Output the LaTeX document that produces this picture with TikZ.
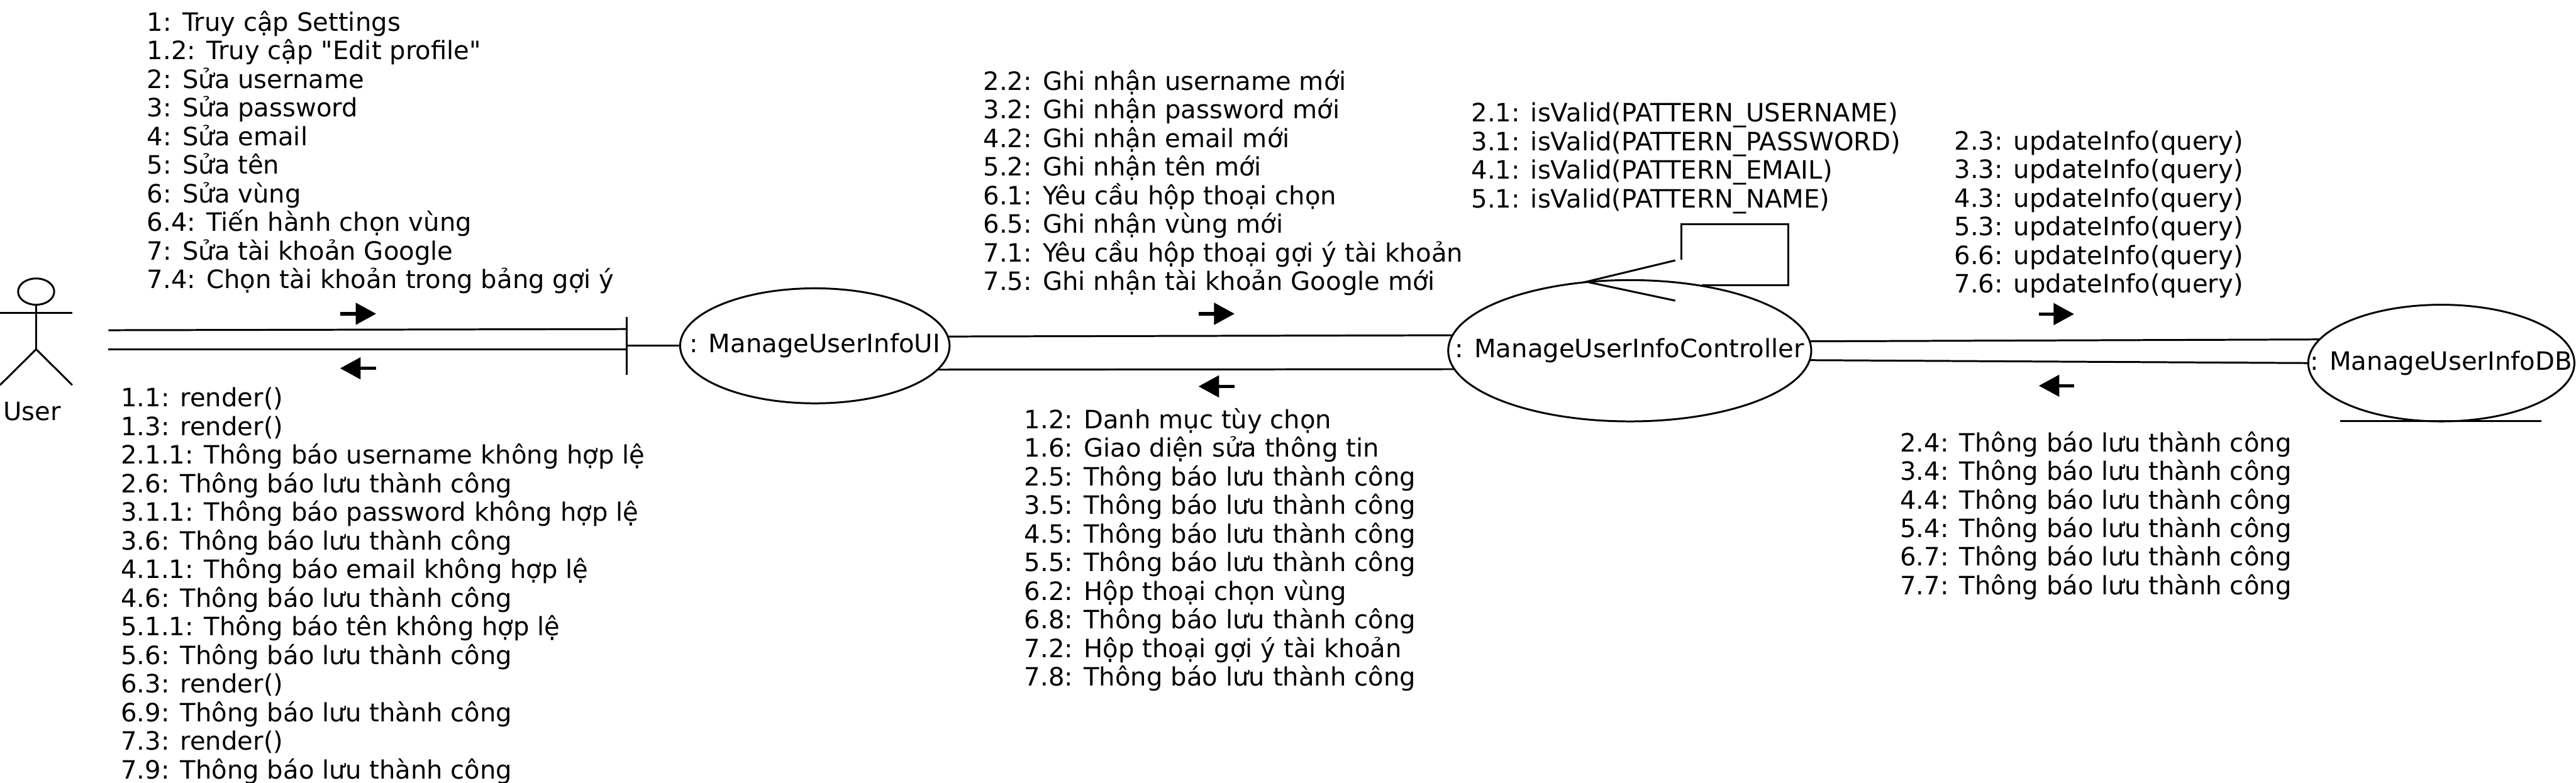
\documentclass[tikz,border=0pt]{standalone}
\usepackage{fontspec}
\setmainfont{DejaVu Sans}[Ligatures=TeXOff]
\usetikzlibrary{arrows.meta, shapes.geometric}
\tikzset{
  objnode/.style={draw,ellipse,inner sep=0pt,outer sep=0pt,font=\fontsize{8.75pt}{10pt}\selectfont},
  msglist/.style={anchor=north west,align=left,inner sep=0pt,font=\fontsize{8.75pt}{9.91pt}\selectfont},
  msgarrow/.style={line width=1.2pt,-{Triangle[length=2.5mm,width=2.6mm]}},
  assoc/.style={line width=0.65pt}
}
\begin{document}
\begin{tikzpicture}[x=0.2mm,y=-0.2mm,line width=0.65pt]
  \useasboundingbox (0,0) rectangle (1568,476.6);
  % actor
  \node[draw,ellipse,minimum width=4.4mm,minimum height=3.2mm,inner sep=0pt,outer sep=0pt] (head) at (22,177.5) {};
  \coordinate (hip) at (22,212.6);
  \coordinate (armL) at (0,190.6);
  \coordinate (armR) at (44,190.6);
  \coordinate (legL) at (0,234.4);
  \coordinate (legR) at (44,234.4);
  \draw (head.south)--(hip);
  \draw (armL)--(armR);
  \draw (legL)--(hip)--(legR);
  \node[font=\fontsize{8.75pt}{10pt}\selectfont] (user) at (19.5,250.5) {User};
  % objects
  \node[objnode,minimum width=32.8mm,minimum height=14mm] (ui) at (496,210.5) {\makebox[0pt]{\raisebox{-0.3mm}{: ManageUserInfoUI}}};
  \node[objnode,minimum width=44.2mm,minimum height=17.2mm] (ctrl) at (992,213.5) {\makebox[0pt]{\raisebox{-0.45mm}{: ManageUserInfoController}}};
  \node[objnode,minimum width=32.4mm,minimum height=14.2mm] (db) at (1486,221) {\makebox[0pt]{\raisebox{-0.3mm}{: ManageUserInfoDB}}};
  \coordinate (dbL) at (1424.6,256.4);
  \coordinate (dbR) at (1546.8,256.4);
  \draw (dbL)--(dbR);
  % boundary bar
  \coordinate (barT) at (381.5,193);
  \coordinate (barB) at (381.5,228);
  \coordinate (barM) at (381.5,210.5);
  \draw (barT)--(barB);
  \draw (barM)--(ui.west);
  % links
  \coordinate (userA) at (66,201);
  \coordinate (userB) at (66,212.8);
  \coordinate (barA) at (381.5,200.3);
  \coordinate (barC) at (381.5,212.8);
  \draw[assoc] (userA)--(barA);
  \draw[assoc] (userB)--(barC);
  \draw[assoc] (ui.4)--(ctrl.175.6);
  \draw[assoc] (ui.-11.5)--(ctrl.186.2);
  \draw[assoc] (ctrl.3.5)--(db.169.1);
  \draw[assoc] (ctrl.-3.8)--(db.180);
  % self loop
  \coordinate (loopA) at (1023.5,158);
  \coordinate (loopB) at (1023.5,136.5);
  \coordinate (loopC) at (1088.5,136.5);
  \coordinate (loopD) at (1088.5,173.5);
  \coordinate (loopE) at (1036,173.5);
  \coordinate (tipU) at (1019.7,158.5);
  \coordinate (tip) at (965.6,171.5);
  \coordinate (tipD) at (1019.7,183);
  \draw (loopA)--(loopB)--(loopC)--(loopD)--(loopE);
  \draw (tipU)--(tip)--(tipD);
  % direction arrows
  \coordinate (a1s) at (207,191);
  \coordinate (a1e) at (229,191);
  \coordinate (a2s) at (229,224.2);
  \coordinate (a2e) at (207,224.2);
  \coordinate (a3s) at (729.5,191);
  \coordinate (a3e) at (751.5,191);
  \coordinate (a4s) at (751.5,235.2);
  \coordinate (a4e) at (729.5,235.2);
  \coordinate (a5s) at (1241,191.2);
  \coordinate (a5e) at (1262.5,191.2);
  \coordinate (a6s) at (1262.5,234.8);
  \coordinate (a6e) at (1241,234.8);
  \draw[msgarrow] (a1s)--(a1e);
  \draw[msgarrow] (a2s)--(a2e);
  \draw[msgarrow] (a3s)--(a3e);
  \draw[msgarrow] (a4s)--(a4e);
  \draw[msgarrow] (a5s)--(a5e);
  \draw[msgarrow] (a6s)--(a6e);
  % messages
  \node[msglist] (msgUser) at (89,6) {1: Truy cập Settings\\1.2: Truy cập "Edit profile"\\2: Sửa username\\3: Sửa password\\4: Sửa email\\5: Sửa tên\\6: Sửa vùng\\6.4: Tiến hành chọn vùng\\7: Sửa tài khoản Google\\7.4: Chọn tài khoản trong bảng gợi ý};
  \node[msglist] (msgRender) at (73,235.3) {1.1: render()\\1.3: render()\\2.1.1: Thông báo username không hợp lệ\\2.6: Thông báo lưu thành công\\3.1.1: Thông báo password không hợp lệ\\3.6: Thông báo lưu thành công\\4.1.1: Thông báo email không hợp lệ\\4.6: Thông báo lưu thành công\\5.1.1: Thông báo tên không hợp lệ\\5.6: Thông báo lưu thành công\\6.3: render()\\6.9: Thông báo lưu thành công\\7.3: render()\\7.9: Thông báo lưu thành công};
  \node[msglist] (msgUi) at (598,42) {2.2: Ghi nhận username mới\\3.2: Ghi nhận password mới\\4.2: Ghi nhận email mới\\5.2: Ghi nhận tên mới\\6.1: Yêu cầu hộp thoại chọn\\6.5: Ghi nhận vùng mới\\7.1: Yêu cầu hộp thoại gợi ý tài khoản\\7.5: Ghi nhận tài khoản Google mới};
  \node[msglist] (msgBack) at (623,248) {1.2: Danh mục tùy chọn\\1.6: Giao diện sửa thông tin\\2.5: Thông báo lưu thành công\\3.5: Thông báo lưu thành công\\4.5: Thông báo lưu thành công\\5.5: Thông báo lưu thành công\\6.2: Hộp thoại chọn vùng\\6.8: Thông báo lưu thành công\\7.2: Hộp thoại gợi ý tài khoản\\7.8: Thông báo lưu thành công};
  \node[msglist] (msgValid) at (895,62) {2.1: isValid(PATTERN\_USERNAME)\\3.1: isValid(PATTERN\_PASSWORD)\\4.1: isValid(PATTERN\_EMAIL)\\5.1: isValid(PATTERN\_NAME)};
  \node[msglist] (msgQuery) at (1189,79) {2.3: updateInfo(query)\\3.3: updateInfo(query)\\4.3: updateInfo(query)\\5.3: updateInfo(query)\\6.6: updateInfo(query)\\7.6: updateInfo(query)};
  \node[msglist] (msgDb) at (1156,262) {2.4: Thông báo lưu thành công\\3.4: Thông báo lưu thành công\\4.4: Thông báo lưu thành công\\5.4: Thông báo lưu thành công\\6.7: Thông báo lưu thành công\\7.7: Thông báo lưu thành công};
\end{tikzpicture}
\end{document}
